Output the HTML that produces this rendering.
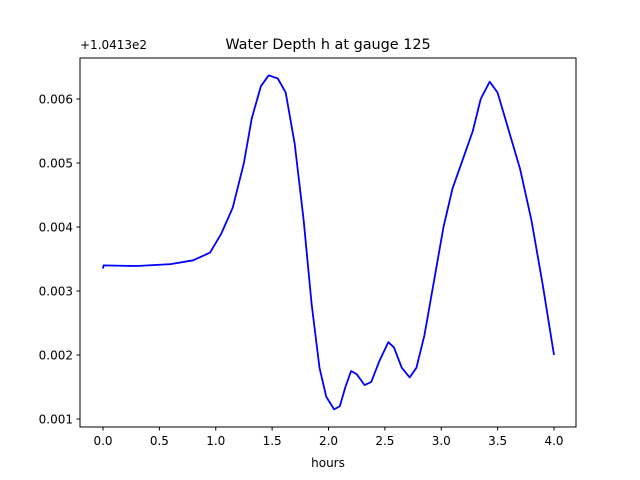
<!DOCTYPE html>
<html><head><meta charset="utf-8"><style>
body{margin:0;background:#fff;}
svg{display:block;font-family:"DejaVu Sans","Liberation Sans",sans-serif;}
</style></head><body>
<svg id="chart" width="640" height="480" viewBox="0 0 640 480">
<rect x="0" y="0" width="640" height="480" fill="#fff"/>
<text x="328" y="49" font-size="14.4" text-anchor="middle">Water Depth h at gauge 125</text>
<text x="80" y="49" font-size="12">+1.0413e2</text>
<text x="328" y="467" font-size="12" text-anchor="middle">hours</text>
<g id="xticks"></g>
<g id="yticks"></g>
<polyline id="line" fill="none" stroke="#0000ff" stroke-width="1.8" stroke-linejoin="round"/>
<rect x="80" y="58" width="496" height="369" fill="none" stroke="#000" stroke-width="1"/>
</svg>
<script>
const hours=[0,0.005,0.3,0.6,0.8,0.95,1.05,1.15,1.25,1.32,1.4,1.47,1.55,1.62,1.7,1.78,1.85,1.92,1.98,2.05,2.1,2.15,2.2,2.25,2.32,2.38,2.45,2.53,2.58,2.65,2.72,2.78,2.85,2.87,2.95,3.02,3.1,3.2,3.28,3.35,3.43,3.5,3.6,3.7,3.8,3.9,4.0];
const depth=[0.00335,0.0034,0.00339,0.00342,0.00348,0.0036,0.0039,0.0043,0.005,0.0057,0.0062,0.00637,0.00632,0.0061,0.0053,0.0041,0.0028,0.0018,0.00135,0.00115,0.0012,0.0015,0.00175,0.0017,0.00153,0.00158,0.0019,0.0022,0.00212,0.0018,0.00165,0.0018,0.0023,0.0025,0.0033,0.004,0.0046,0.0051,0.0055,0.006,0.00627,0.0061,0.0055,0.0049,0.0041,0.0031,0.002];
const xTicks=[0,0.5,1.0,1.5,2.0,2.5,3.0,3.5,4.0];
const yTicks=[0.001,0.002,0.003,0.004,0.005,0.006];
const xs=v=>103+v*112.75;
const ys=v=>99+(0.006-v)*64000;
const NS="http://www.w3.org/2000/svg";
document.getElementById('line').setAttribute('points',hours.map((h,i)=>xs(h).toFixed(1)+','+ys(depth[i]).toFixed(1)).join(' '));
const gx=document.getElementById('xticks');
xTicks.forEach(t=>{
 const l=document.createElementNS(NS,'line');
 
 
 l.setAttribute('x1',xs(t));l.setAttribute('x2',xs(t));l.setAttribute('y1',427);l.setAttribute('y2',430.5);l.setAttribute('stroke','#000');
 gx.appendChild(l);
 const tx=document.createElementNS(NS,'text');
 
 
 tx.setAttribute('x',xs(t));tx.setAttribute('y',445);tx.setAttribute('font-size','12');tx.setAttribute('text-anchor','middle');
 tx.textContent=t.toFixed(1);gx.appendChild(tx);
});
const gy=document.getElementById('yticks');
yTicks.forEach(t=>{
 const l=document.createElementNS(NS,'line');
 
 
 l.setAttribute('x1',76.5);l.setAttribute('x2',80);l.setAttribute('y1',ys(t));l.setAttribute('y2',ys(t));l.setAttribute('stroke','#000');
 gy.appendChild(l);
 const tx=document.createElementNS(NS,'text');
 
 
 tx.setAttribute('x',73);tx.setAttribute('y',ys(t)+4.5);tx.setAttribute('font-size','12');tx.setAttribute('text-anchor','end');
 tx.textContent=t.toFixed(3);gy.appendChild(tx);
});
</script>
</body></html>
